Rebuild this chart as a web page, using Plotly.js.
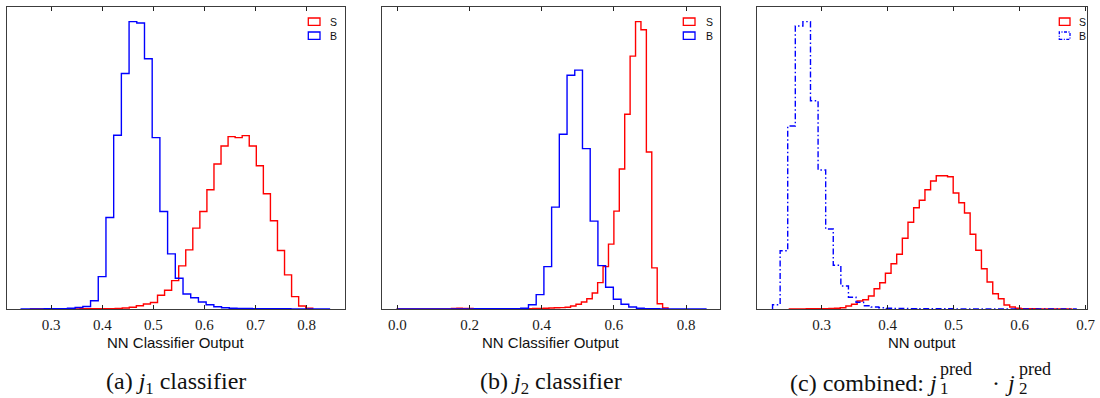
<!DOCTYPE html>
<html>
<head>
<meta charset="utf-8">
<script src="https://cdn.plot.ly/plotly-3.0.1.min.js"></script>
<style>
  html, body { margin: 0; padding: 0; background: #ffffff; }
  #chart { width: 1100px; height: 398px; }
</style>
</head>
<body>
<div id="chart"></div>
<script>
// ---- Histogram contents (arbitrary normalised units), one array per sample ----

// (a) j1 classifier
const aSigStart = 0.2595, aSigWidth = 0.01381;
const aSig = [0.1, 0.1, 0.1, 0.1, 0.1, 0.1, 0.1, 0.2, 0.2, 0.2,
              0.3, 0.4, 0.6, 1.0, 1.7, 3.3, 5.0, 6.5, 13.7, 18.7,
              28.3, 43, 59, 80.7, 97.3, 119, 144.7, 162.7, 172, 171,
              173, 162.7, 143, 115, 88, 58.3, 34, 12.3, 3, 0.7];
const aBkgStart = 0.2413, aBkgWidth = 0.01508;
const aBkg = [0.1, 0.1, 0.1, 0.2, 0.3, 0.4, 0.8, 1.5, 2.5, 8.3,
              32.3, 91.3, 173.3, 235, 286.7, 285.3, 249.7, 171, 97.3, 55,
              30.7, 15, 11.3, 7, 4.3, 2.3, 1.3, 0.8, 0.6, 0.5,
              0.4, 0.3, 0.3, 0.2, 0.2, 0.1, 0.1, 0.1, 0.1, 0.1];

// (b) j2 classifier
const bSigStart = 0.0, bSigWidth = 0.015;
const bSig = [0.1, 0.1, 0.1, 0.1, 0.1, 0.1, 0.1, 0.1, 0.1, 0.1,
              0.6, 0.7, 0.6, 0.5, 0.3, 0.3, 0.2, 0.2, 0.2, 0.3,
              0.3, 0.3, 0.3, 0.4, 0.4, 0.5, 0.6, 0.8, 1.0, 1.2,
              1.4, 1.7, 3, 4.7, 7, 10.3, 16, 26.3, 42.3, 64.7,
              97.7, 139.7, 194.3, 252.3, 286.7, 278.7, 156.7, 41, 5.3, 1];
const bBkgStart = 0.0, bBkgWidth = 0.021375;
const bBkg = [0.1, 0.1, 0.1, 0.1, 0.1, 0.1, 0.1, 0.1, 0.1, 0.1,
              0.2, 0.2, 0.2, 0.3, 0.3, 0.4, 0.7, 4.3, 14.3, 42.3,
              101.7, 174.3, 233.3, 238.3, 160, 87.7, 43.3, 21.7, 9.7, 4.7,
              2, 0.8, 0.4, 0.2, 0.1, 0.1, 0.1, 0.1, 0.1, 0.1];

// (c) combined product j1_pred * j2_pred
const cSigStart = 0.251, cSigWidth = 0.00856;
const cSig = [0.1, 0.1, 0.1, 0.2, 0.2, 0.3, 0.4, 0.5, 0.7, 1.3,
              3, 4.7, 8, 9.3, 13, 20.3, 26.3, 35.7, 45.3, 54.7,
              70.7, 86.7, 101.3, 108.7, 119.3, 128, 133.3, 133.3, 132.3, 116,
              106.3, 96, 74.7, 58.7, 40.3, 27, 15.3, 10.3, 4, 2,
              0.7, 0.3, 0.2, 0.2, 0.1, 0.1, 0.1, 0.1, 0.1, 0.1];
const cBkgStart = 0.2255, cBkgWidth = 0.0115;
const cBkg = [4.3, 58.3, 183, 283, 287.3, 208.3, 139, 80, 43.7, 23,
              11.7, 6.7, 3.3, 2, 1.2, 0.8, 0.6, 0.5, 0.4, 0.3,
              0.3, 0.2, 0.2, 0.2, 0.1, 0.1, 0.1, 0.1, 0.1, 0.1,
              0.1, 0.1, 0.1, 0.1, 0.1, 0.1, 0.1, 0.1, 0.1, 0.1];

const legendLabels = ['S', 'B'];
const xTitles = ['NN Classifier Output', 'NN Classifier Output', 'NN output'];

// ---- helpers ----
const W = 1100, H = 398;
const px = v => v / W;          // pixel column -> paper x
const py = v => 1 - v / H;      // pixel row    -> paper y

// matplotlib-style "step" histogram outline from bin start, width and contents
function stepOutline(start, width, counts) {
  const x = [start], y = [0];
  counts.forEach((c, i) => { x.push(start + i * width); y.push(c); });
  x.push(start + counts.length * width); y.push(counts[counts.length - 1]);
  x.push(start + counts.length * width); y.push(0);
  return { x, y };
}

const RED = '#ff0000', BLUE = '#0000ff';
const LW = 1.4;
const DASHDOT = '6px,2.5px,1.5px,2.5px';

function histTrace(start, width, counts, color, ax, dash) {
  const s = stepOutline(start, width, counts);
  return {
    type: 'scatter', mode: 'lines', x: s.x, y: s.y,
    xaxis: 'x' + ax, yaxis: 'y' + ax,
    line: { color: color, width: LW, shape: 'hv', dash: dash || 'solid' },
    hoverinfo: 'skip', showlegend: false
  };
}

const traces = [
  histTrace(aSigStart, aSigWidth, aSig, RED, ''),
  histTrace(aBkgStart, aBkgWidth, aBkg, BLUE, ''),
  histTrace(bSigStart, bSigWidth, bSig, RED, '2'),
  histTrace(bBkgStart, bBkgWidth, bBkg, BLUE, '2'),
  histTrace(cSigStart, cSigWidth, cSig, RED, '3'),
  histTrace(cBkgStart, cBkgWidth, cBkg, BLUE, '3', DASHDOT)
];

// ---- panel frames ----
const panels = [
  { l: 7,     r: 345,  range: [0.2135, 0.875],  dtick: 0.1, tick0: 0.3, ymax: Math.max(...aSig, ...aBkg) },
  { l: 382.3, r: 720,  range: [-0.0416, 0.894], dtick: 0.2, tick0: 0.0, ymax: Math.max(...bSig, ...bBkg) },
  { l: 757.3, r: 1087, range: [0.2024, 0.702],  dtick: 0.1, tick0: 0.3, ymax: Math.max(...cSig, ...cBkg) }
];
const TOP = 7.3, BOTTOM = 309;
const FRAME = '#3c3c3c';
const serif = 'Liberation Serif';
const sans = 'Liberation Sans';

const layout = {
  width: W, height: H,
  margin: { l: 0, r: 0, t: 0, b: 0, pad: 0 },
  paper_bgcolor: '#ffffff', plot_bgcolor: '#ffffff',
  showlegend: false,
  shapes: [], annotations: []
};

panels.forEach((p, i) => {
  const sfx = i === 0 ? '' : String(i + 1);
  layout['xaxis' + sfx] = {
    domain: [px(p.l), px(p.r)], range: p.range, anchor: 'y' + sfx,
    tickmode: 'linear', tick0: p.tick0, dtick: p.dtick, tickformat: '.1f',
    ticks: 'inside', ticklen: 4, tickwidth: 1, tickcolor: '#222',
    showline: true, linecolor: FRAME, linewidth: 1, mirror: 'ticks',
    showgrid: false, zeroline: false,
    tickfont: { family: serif, size: 15, color: '#1a1a1a' },
    ticklabelstandoff: 2
  };
  layout['yaxis' + sfx] = {
    domain: [py(BOTTOM), py(TOP)], range: [0, p.ymax * 1.05], anchor: 'x' + sfx,
    showticklabels: false, ticks: '',
    showline: true, linecolor: FRAME, linewidth: 1, mirror: true,
    showgrid: false, zeroline: false
  };
  // axis title
  layout.annotations.push({
    xref: 'paper', yref: 'paper', x: px((p.l + p.r) / 2), y: py(342),
    xanchor: 'center', yanchor: 'middle', showarrow: false,
    text: xTitles[i], font: { family: sans, size: 15, color: '#111' }
  });
});

// ---- legends: outlined boxes with labels ----
const legendPos = [
  { bx0: 308.3, bx1: 320,  tx: 328.3 },
  { bx0: 683.3, bx1: 695,  tx: 704.3 },
  { bx0: 1059.3, bx1: 1070, tx: 1076.7 }
];
const rows = [ { y0: 18, y1: 25.3, ty: 21.7, color: RED }, { y0: 32, y1: 39.3, ty: 35.7, color: BLUE } ];
legendPos.forEach((lp, i) => {
  rows.forEach((r, j) => {
    layout.shapes.push({
      type: 'rect', xref: 'paper', yref: 'paper',
      x0: px(lp.bx0), x1: px(lp.bx1), y0: py(r.y1), y1: py(r.y0),
      line: { color: r.color, width: 1.3, dash: (i === 2 && j === 1) ? '3px,1.5px,1px,1.5px' : 'solid' },
      fillcolor: 'rgba(0,0,0,0)'
    });
    layout.annotations.push({
      xref: 'paper', yref: 'paper', x: px(lp.tx), y: py(r.ty),
      xanchor: 'left', yanchor: 'middle', showarrow: false,
      text: legendLabels[j], font: { family: sans, size: 10.5, color: '#111' }
    });
  });
});

// ---- sub-figure captions ----
const capFont = { family: serif, size: 24, color: '#111' };
const supFont = { family: serif, size: 18, color: '#111' };
const subFont = { family: serif, size: 17, color: '#111' };
const CAP_Y = 383;
const caption = (x, y, anchor, text, font) => layout.annotations.push({
  xref: 'paper', yref: 'paper', x: px(x), y: py(y), xanchor: anchor, yanchor: 'middle',
  showarrow: false, borderpad: 0, text: text, font: font
});
caption(176, CAP_Y, 'center', '(a) <i>j</i><sub>1</sub> classifier', capFont);
caption(551, CAP_Y, 'center', '(b) <i>j</i><sub>2</sub> classifier', capFont);
// (c): stacked sub/superscripts are composed from separate pieces
caption(938,  CAP_Y, 'right',  '(c) combined: <i>j</i>', capFont);
caption(939,  369,   'left',   'pred', supFont);
caption(939,  388,   'left',   '1', subFont);
caption(996,  CAP_Y, 'center', '·', capFont);
caption(1016, CAP_Y, 'right',  '<i>j</i>', capFont);
caption(1018, 369,   'left',   'pred', supFont);
caption(1018, 388,   'left',   '2', subFont);

Plotly.newPlot('chart', traces, layout, { staticPlot: true, displayModeBar: false });
</script>
</body>
</html>
